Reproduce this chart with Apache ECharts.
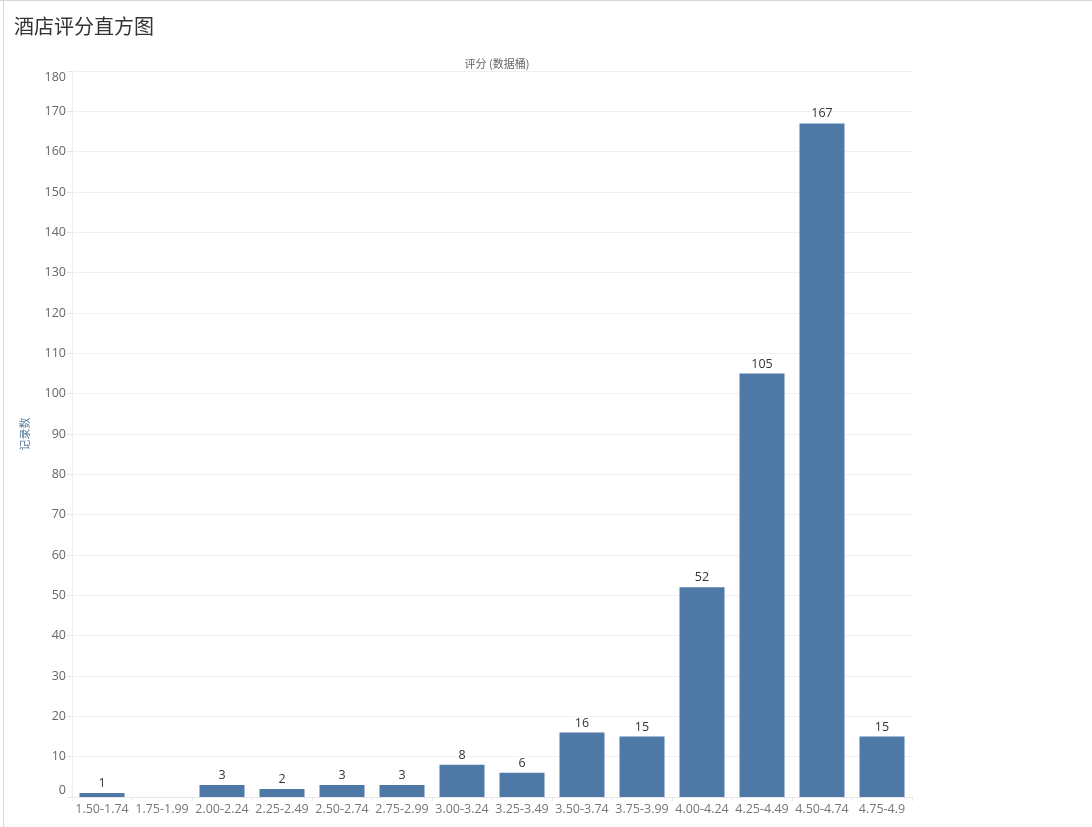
<!DOCTYPE html>
<html><head><meta charset="utf-8">
<script src="https://cdn.jsdelivr.net/npm/echarts@6/dist/echarts.min.js"></script>
<style>
html,body{margin:0;padding:0;background:#fff;}
#frame{position:absolute;left:0;top:0;width:1092px;height:827px;box-sizing:border-box;border-top:1px solid #d6d6d6;}
#edge{position:absolute;left:3px;top:0;width:1px;height:827px;background:#d6d6d6;}
#c{position:absolute;left:0;top:0;width:1092px;height:827px;}
</style></head>
<body>
<div id="frame"></div><div id="edge"></div>
<div id="c"></div>
<script>
const chartTitle = '酒店评分直方图';
const xAxisTitle = '评分 (数据桶)';
const yAxisTitle = '记录数';
const categories = ['1.50-1.74','1.75-1.99','2.00-2.24','2.25-2.49','2.50-2.74','2.75-2.99','3.00-3.24','3.25-3.49','3.50-3.74','3.75-3.99','4.00-4.24','4.25-4.49','4.50-4.74','4.75-4.9'];
const counts = [1,0,3,2,3,3,8,6,16,15,52,105,167,15];

const chart = echarts.init(document.getElementById('c'), null, {renderer:'canvas'});
chart.setOption({
  animation:false,
  title:[
    {text:chartTitle, left:9, top:11, textStyle:{fontFamily:'Noto Sans CJK SC', fontSize:20, fontWeight:'normal', color:'#333'}},
    {text:xAxisTitle, left:492, top:53, textAlign:'center', textStyle:{fontFamily:'Noto Sans CJK SC', fontSize:11, fontWeight:'normal', color:'#666'}}
  ],
  grid:{left:72, right:180, top:71, bottom:30, containLabel:false},
  xAxis:{
    type:'category', data:categories,
    axisLine:{show:true, lineStyle:{color:'#e6e6e6'}},
    axisTick:{show:true, length:4, lineStyle:{color:'#e6e6e6'}},
    axisLabel:{color:'#777', fontSize:12.5, margin:6, fontFamily:'Open Sans', interval:0},
    splitLine:{show:false}
  },
  yAxis:{
    type:'value', min:0, max:180, interval:10,
    name:yAxisTitle, nameLocation:'middle', nameGap:42, nameRotate:90,
    nameTextStyle:{color:'#5a7d9a', fontSize:11, fontFamily:'Noto Sans CJK SC'},
    axisLine:{show:true, lineStyle:{color:'#f0f0f0'}},
    axisTick:{show:true, length:5, lineStyle:{color:'#e6e6e6'}},
    axisLabel:{color:'#666', fontSize:12.5, margin:6, fontFamily:'Open Sans', verticalAlignMinLabel:'bottom', verticalAlignMaxLabel:'top'},
    splitLine:{show:true, lineStyle:{color:'#f0f0f0'}}
  },
  series:[{
    type:'bar', data:counts, barWidth:'75%',
    itemStyle:{color:'#4e79a7'},
    label:{show:true, position:'top', distance:3, color:'#333', fontSize:12.5, fontFamily:'Open Sans',
      formatter:p => p.value === 0 ? '' : String(p.value)}
  }]
});
</script>
</body></html>
